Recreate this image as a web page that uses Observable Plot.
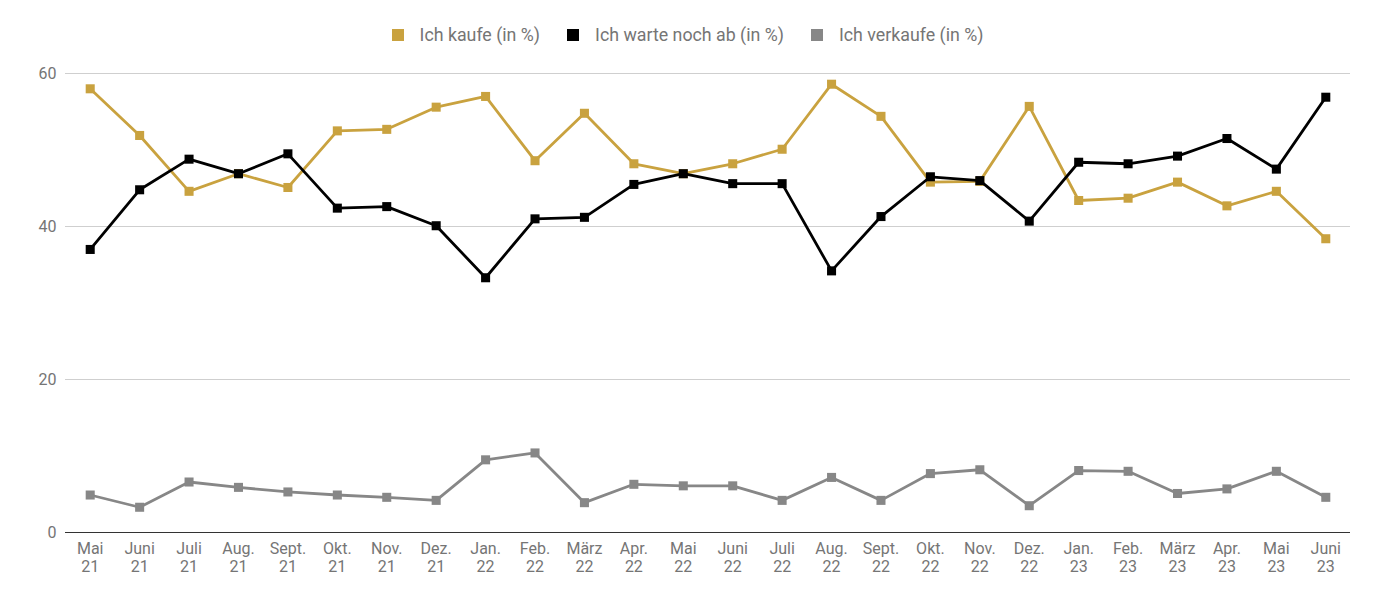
<!DOCTYPE html>
<html>
<head>
<meta charset="utf-8">
<script src="https://cdn.jsdelivr.net/npm/d3@7"></script>
<script src="https://cdn.jsdelivr.net/npm/@observablehq/plot@0.6"></script>
<style>
  html, body { margin: 0; padding: 0; background: #fff; }
  body { width: 1375px; height: 590px; overflow: hidden; font-family: Roboto, "Noto Sans", sans-serif; }
  #legend { height: 55px; display: flex; justify-content: center; align-items: flex-start; box-sizing: border-box; }
  #legend .inner { display: flex; gap: 27px; margin-top: 25px; }
  #legend .item { display: flex; align-items: center; font-size: 17.8px; color: #757575; line-height: 20px; }
  #legend .sw { width: 12px; height: 12px; margin-right: 16px; }
  svg { display: block; }
</style>
</head>
<body>
<div id="legend"></div>
<div id="chart"></div>
<script>
const months = ["Mai 21","Juni 21","Juli 21","Aug. 21","Sept. 21","Okt. 21","Nov. 21","Dez. 21",
  "Jan. 22","Feb. 22","März 22","Apr. 22","Mai 22","Juni 22","Juli 22","Aug. 22","Sept. 22","Okt. 22","Nov. 22","Dez. 22",
  "Jan. 23","Feb. 23","März 23","Apr. 23","Mai 23","Juni 23"];
const kaufe = [58.0,51.9,44.6,46.9,45.1,52.5,52.7,55.6,57.0,48.6,54.8,48.2,46.9,48.2,50.1,58.6,54.4,45.8,45.9,55.7,43.4,43.7,45.8,42.7,44.6,38.4];
const warte = [37.0,44.8,48.8,46.9,49.5,42.4,42.6,40.1,33.3,41.0,41.2,45.5,46.9,45.6,45.6,34.2,41.3,46.5,46.0,40.7,48.4,48.2,49.2,51.5,47.5,56.9];
const verkaufe = [4.9,3.3,6.6,5.9,5.3,4.9,4.6,4.2,9.5,10.4,3.9,6.3,6.1,6.1,4.2,7.2,4.2,7.7,8.2,3.5,8.1,8.0,5.1,5.7,8.0,4.6];
const seriesNames = ["Ich kaufe (in %)","Ich warte noch ab (in %)","Ich verkaufe (in %)"];
const seriesColors = ["#c9a23f","#000000","#878787"];
const yTicks = [0,20,40,60];

const seriesValues = [kaufe, warte, verkaufe];
const data = [];
seriesValues.forEach((vals, s) => vals.forEach((v, i) => data.push({month: months[i], value: v, series: seriesNames[s]})));

// legend
const leg = document.createElement("div");
leg.className = "inner";
seriesNames.forEach((n, i) => {
  const it = document.createElement("div");
  it.className = "item";
  it.innerHTML = `<span class="sw" style="background:${seriesColors[i]}"></span><span>${n}</span>`;
  leg.appendChild(it);
});
document.getElementById("legend").appendChild(leg);

const lineMarks = [2, 0, 1].map((s) => {
  const d = data.filter(r => r.series === seriesNames[s]);
  return [
    Plot.line(d, {x: "month", y: "value", stroke: seriesColors[s], strokeWidth: 2.8, curve: "linear"}),
    Plot.dot(d, {x: "month", y: "value", symbol: "square", r: 5.1, fill: seriesColors[s], stroke: "none"})
  ];
}).flat();

const chart = Plot.plot({
  width: 1375,
  height: 535,
  marginTop: 18,
  marginBottom: 58,
  marginLeft: 65,
  marginRight: 25,
  style: {fontFamily: "Roboto, 'Noto Sans', sans-serif", background: "#fff"},
  x: {type: "point", domain: months, padding: 0.5, round: false, label: null},
  y: {domain: [0, 60], label: null},
  marks: [
    Plot.gridY(yTicks.filter(t => t > 0), {stroke: "#cfcfcf", strokeOpacity: 1, strokeWidth: 1}),
    Plot.axisY(yTicks, {tickSize: 0, tickPadding: 9, fontSize: 16, fill: "#757575", label: null}),
    Plot.axisX({tickSize: 0, tickPadding: 9, fontSize: 16, fill: "#757575", lineHeight: 1.12, label: null,
      tickFormat: d => d.replace(" ", "\n")}),
    Plot.ruleY([0], {stroke: "#333", strokeWidth: 1.2}),
    ...lineMarks
  ]
});
document.getElementById("chart").appendChild(chart);
</script>
</body>
</html>
